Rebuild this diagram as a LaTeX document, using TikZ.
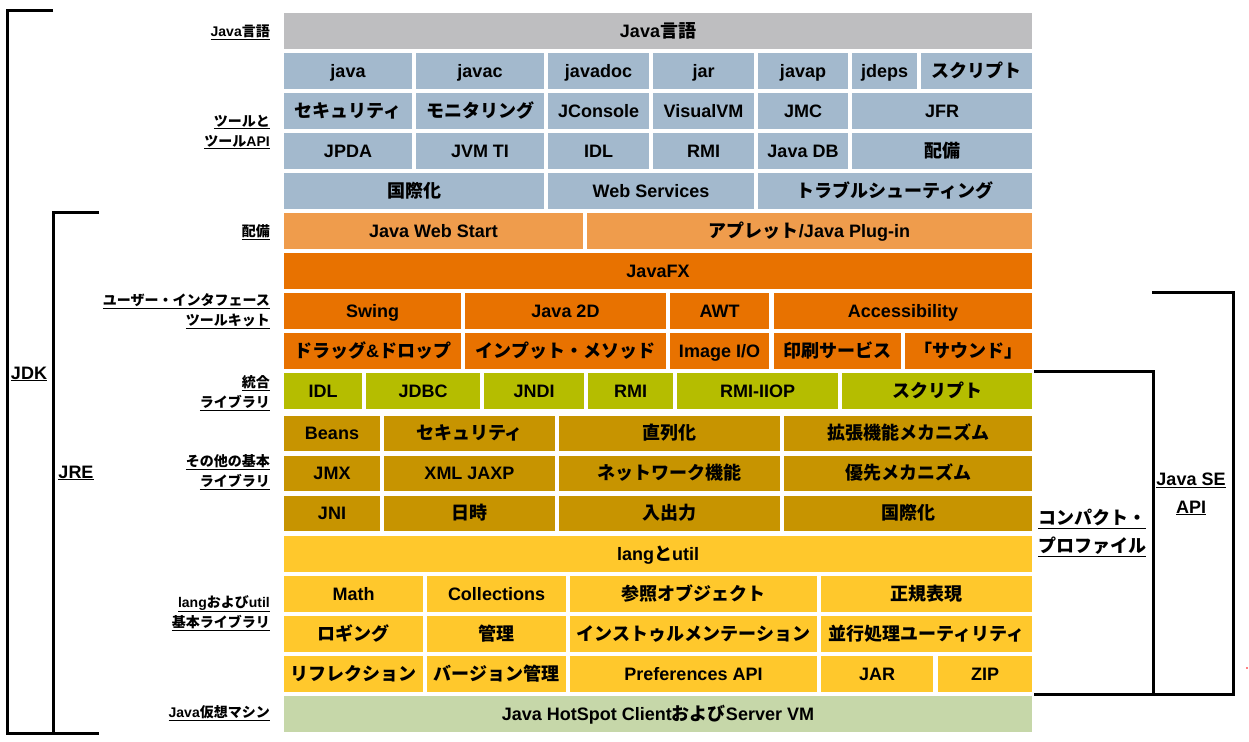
\documentclass[tikz,border=0pt]{standalone}
\usepackage{fontspec}
\setmainfont{Liberation Sans}
\newfontfamily\jpf{Noto Sans CJK JP}
\newcommand\jtxt[1]{{\jpf #1}}
\definecolor{cgray}{HTML}{BEBEC0}
\definecolor{cblue}{HTML}{A3B9CD}
\definecolor{clor}{HTML}{EF9C4C}
\definecolor{cdor}{HTML}{E87200}
\definecolor{cgrn}{HTML}{B5BD00}
\definecolor{cgld}{HTML}{C79400}
\definecolor{cyel}{HTML}{FFC82C}
\definecolor{cvm}{HTML}{C6D7A9}
\tikzset{
  cell/.style={inner sep=0pt, outer sep=0pt, text=black, text height=14pt, text depth=1.5pt, font=\fontsize{18}{21}\selectfont\bfseries},
  catlab/.style={anchor=east, align=right, inner sep=0pt, font=\fontsize{14}{20}\selectfont\bfseries},
  biglab/.style={align=center, inner sep=0pt, font=\fontsize{18}{27.5}\selectfont\bfseries},
  bracket/.style={line width=3pt, black}
}
\newcommand\cellbox[7]{%
  \pgfmathsetmacro\cw{#4-#2}\pgfmathsetmacro\ch{#5-#3}%
  \pgfmathsetmacro\cx{(#2+#4)/2}\pgfmathsetmacro\cy{(#3+#5)/2}%
  \node[cell, fill=#6, minimum width=\cw pt, minimum height=\ch pt] (#1) at (\cx,\cy) {#7};}
\begin{document}
\begin{tikzpicture}[x=1pt, y=-1pt]
\useasboundingbox (0,0) rectangle (1249,741);
% row 0
\cellbox{lang}{284}{13}{1032}{49}{cgray}{Java\jtxt{言語}}
% row 1
\cellbox{java}{284}{53}{412}{89}{cblue}{java}
\cellbox{javac}{416}{53}{544}{89}{cblue}{javac}
\cellbox{javadoc}{548}{53}{649}{89}{cblue}{javadoc}
\cellbox{jar}{653}{53}{754}{89}{cblue}{jar}
\cellbox{javap}{758}{53}{848}{89}{cblue}{javap}
\cellbox{jdeps}{852}{53}{917}{89}{cblue}{jdeps}
\cellbox{script1}{921}{53}{1032}{89}{cblue}{\jtxt{スクリプト}}
% row 2
\cellbox{sec1}{284}{93}{412}{129}{cblue}{\jtxt{セキュリティ}}
\cellbox{mon}{416}{93}{544}{129}{cblue}{\jtxt{モニタリング}}
\cellbox{jcon}{548}{93}{649}{129}{cblue}{JConsole}
\cellbox{vvm}{653}{93}{754}{129}{cblue}{VisualVM}
\cellbox{jmc}{758}{93}{848}{129}{cblue}{JMC}
\cellbox{jfr}{852}{93}{1032}{129}{cblue}{JFR}
% row 3
\cellbox{jpda}{284}{133}{412}{169}{cblue}{JPDA}
\cellbox{jvmti}{416}{133}{544}{169}{cblue}{JVM TI}
\cellbox{idl1}{548}{133}{649}{169}{cblue}{IDL}
\cellbox{rmi1}{653}{133}{754}{169}{cblue}{RMI}
\cellbox{jdb}{758}{133}{848}{169}{cblue}{Java DB}
\cellbox{dep1}{852}{133}{1032}{169}{cblue}{\jtxt{配備}}
% row 4
\cellbox{i18n1}{284}{173}{544}{209}{cblue}{\jtxt{国際化}}
\cellbox{ws}{548}{173}{754}{209}{cblue}{Web Services}
\cellbox{trbl}{758}{173}{1032}{209}{cblue}{\jtxt{トラブルシューティング}}
% row 5
\cellbox{jws}{284}{213}{583}{249}{clor}{Java Web Start}
\cellbox{applet}{587}{213}{1032}{249}{clor}{\jtxt{アプレット}/Java Plug-in}
% row 6
\cellbox{javafx}{284}{253}{1032}{289}{cdor}{JavaFX}
% row 7
\cellbox{swing}{284}{293}{461}{329}{cdor}{Swing}
\cellbox{j2d}{465}{293}{666}{329}{cdor}{Java 2D}
\cellbox{awt}{670}{293}{769}{329}{cdor}{AWT}
\cellbox{acc}{774}{293}{1032}{329}{cdor}{Accessibility}
% row 8
\cellbox{dnd}{284}{333}{461}{369}{cdor}{\jtxt{ドラッグ}\&\jtxt{ドロップ}}
\cellbox{im}{465}{333}{666}{369}{cdor}{\jtxt{インプット・メソッド}}
\cellbox{imgio}{670}{333}{769}{369}{cdor}{Image I/O}
\cellbox{print}{774}{333}{901}{369}{cdor}{\jtxt{印刷サービス}}
\cellbox{sound}{905}{333}{1032}{369}{cdor}{\jtxt{「サウンド」}}
% row 9
\cellbox{idl2}{284}{373}{362}{409}{cgrn}{IDL}
\cellbox{jdbc}{366}{373}{480}{409}{cgrn}{JDBC}
\cellbox{jndi}{484}{373}{584}{409}{cgrn}{JNDI}
\cellbox{rmi2}{588}{373}{673}{409}{cgrn}{RMI}
\cellbox{iiop}{677}{373}{838}{409}{cgrn}{RMI-IIOP}
\cellbox{script2}{842}{373}{1032}{409}{cgrn}{\jtxt{スクリプト}}
% row 10
\cellbox{beans}{284}{416}{380}{451}{cgld}{Beans}
\cellbox{sec2}{384}{416}{555}{451}{cgld}{\jtxt{セキュリティ}}
\cellbox{ser}{559}{416}{780}{451}{cgld}{\jtxt{直列化}}
\cellbox{ext}{784}{416}{1032}{451}{cgld}{\jtxt{拡張機能メカニズム}}
% row 11
\cellbox{jmx}{284}{456}{380}{491}{cgld}{JMX}
\cellbox{xml}{384}{456}{555}{491}{cgld}{XML JAXP}
\cellbox{net}{559}{456}{780}{491}{cgld}{\jtxt{ネットワーク機能}}
\cellbox{ovr}{784}{456}{1032}{491}{cgld}{\jtxt{優先メカニズム}}
% row 12
\cellbox{jni}{284}{496}{380}{531}{cgld}{JNI}
\cellbox{date}{384}{496}{555}{531}{cgld}{\jtxt{日時}}
\cellbox{io}{559}{496}{780}{531}{cgld}{\jtxt{入出力}}
\cellbox{i18n2}{784}{496}{1032}{531}{cgld}{\jtxt{国際化}}
% row 13
\cellbox{langutil}{284}{536}{1032}{572}{cyel}{lang\jtxt{と}util}
% row 14
\cellbox{math}{284}{576}{423}{612}{cyel}{Math}
\cellbox{coll}{427}{576}{566}{612}{cyel}{Collections}
\cellbox{ref}{570}{576}{817}{612}{cyel}{\jtxt{参照オブジェクト}}
\cellbox{regex}{821}{576}{1032}{612}{cyel}{\jtxt{正規表現}}
% row 15
\cellbox{log}{284}{616}{423}{652}{cyel}{\jtxt{ロギング}}
\cellbox{mgmt}{427}{616}{566}{652}{cyel}{\jtxt{管理}}
\cellbox{instr}{570}{616}{817}{652}{cyel}{\jtxt{インストゥルメンテーション}}
\cellbox{conc}{821}{616}{1032}{652}{cyel}{\jtxt{並行処理ユーティリティ}}
% row 16
\cellbox{refl}{284}{656}{423}{692}{cyel}{\jtxt{リフレクション}}
\cellbox{ver}{427}{656}{566}{692}{cyel}{\jtxt{バージョン管理}}
\cellbox{pref}{570}{656}{817}{692}{cyel}{Preferences API}
\cellbox{jar2}{821}{656}{933}{692}{cyel}{JAR}
\cellbox{zip}{938}{656}{1032}{692}{cyel}{ZIP}
% row 17
\cellbox{vm}{284}{696}{1032}{732}{cvm}{Java HotSpot Client\jtxt{および}Server VM}
% category labels
\node[catlab] (l1) at (270,32) {\underline{Java\jtxt{言語}}};
\node[catlab] (l2) at (270,132) {\underline{\jtxt{ツールと}}\\\underline{\jtxt{ツール}API}};
\node[catlab] (l3) at (270,232) {\underline{\jtxt{配備}}};
\node[catlab] (l4) at (270,311) {\underline{\jtxt{ユーザー・インタフェース}}\\\underline{\jtxt{ツールキット}}};
\node[catlab] (l5) at (270,393) {\underline{\jtxt{統合}}\\\underline{\jtxt{ライブラリ}}};
\node[catlab] (l6) at (270,472) {\underline{\jtxt{その他の基本}}\\\underline{\jtxt{ライブラリ}}};
\node[catlab] (l7) at (270,613) {\underline{lang\jtxt{および}util}\\\underline{\jtxt{基本ライブラリ}}};
\node[catlab] (l8) at (270,713) {\underline{Java\jtxt{仮想マシン}}};
% brackets
\draw[bracket] (53,11) -- (7.5,11) -- (7.5,733) -- (99,733);
\draw[bracket] (99,212) -- (53,212) -- (53,733);
\draw[bracket] (1034,371) -- (1153,371) -- (1153,694);
\draw[bracket] (1152,292) -- (1233,292) -- (1233,694) -- (1034,694);
\node[biglab] (jdk) at (29,374) {\underline{JDK}};
\node[biglab] (jre) at (76,473) {\underline{JRE}};
\node[biglab] (seapi) at (1191,494) {\underline{Java SE}\\\underline{API}};
\node[biglab] (cprof) at (1092,533) {\underline{\jtxt{コンパクト・}}\\\underline{\jtxt{プロファイル}}};
\fill[red] (1247,668) circle (0.8);
\end{tikzpicture}
\end{document}
